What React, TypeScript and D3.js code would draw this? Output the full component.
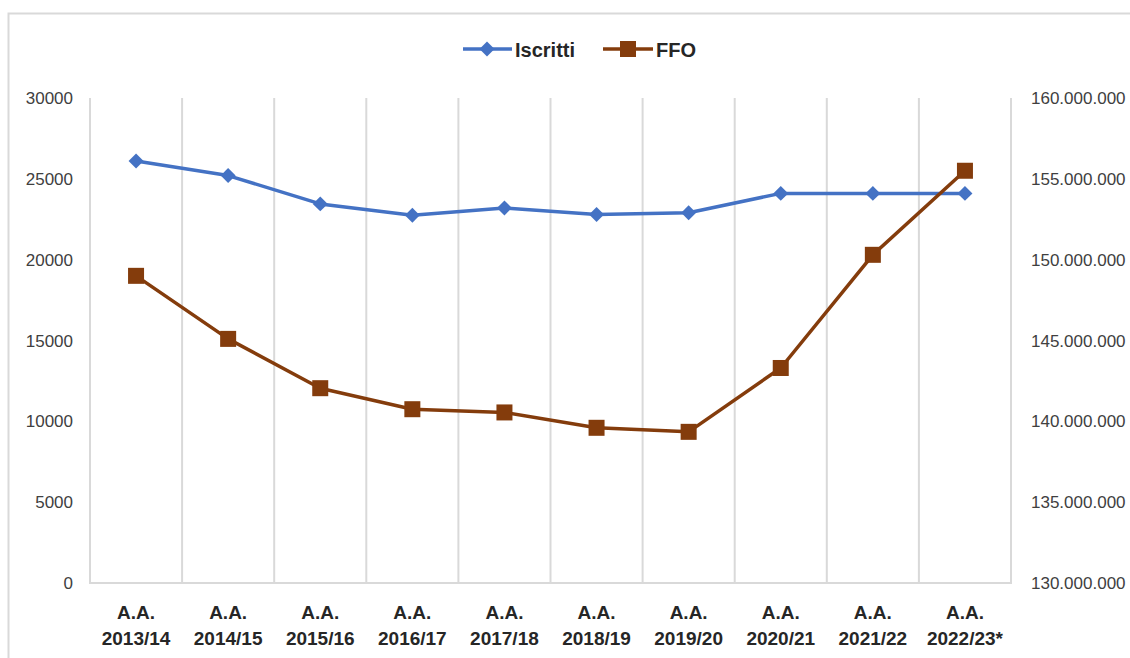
import {useEffect, useRef} from 'react';
import * as d3 from 'd3';

const categories = [
    '2013/14', '2014/15', '2015/16', '2016/17', '2017/18',
    '2018/19', '2019/20', '2020/21', '2021/22', '2022/23*',
];
const iscritti = [26100, 25200, 23450, 22750, 23200, 22800, 22900, 24100, 24100, 24100];
const ffo = [
    149000000, 145100000, 142050000, 140750000, 140550000,
    139600000, 139350000, 143300000, 150300000, 155500000,
];
const leftTicks = [0, 5000, 10000, 15000, 20000, 25000, 30000];
const rightTicks = [130000000, 135000000, 140000000, 145000000, 150000000, 155000000, 160000000];

const BLUE = '#4472C4';
const BROWN = '#843C0C';
const GRID = '#d9d9d9';
const FONT = '"Liberation Sans", Arial, sans-serif';

export default function App() {
    const ref = useRef<SVGSVGElement | null>(null);

    useEffect(() => {
        const width = 1130;
        const height = 658;
        const m = {left: 90, right: 1011, top: 98, bottom: 583};
        const svg = d3.select(ref.current);
        svg.selectAll('*').remove();
        svg.attr('viewBox', `0 0 ${width} ${height}`);

        // chart frame
        svg.append('rect')
            .attr('x', 8.5).attr('y', 13.5)
            .attr('width', 1140).attr('height', 700)
            .attr('fill', 'white')
            .attr('stroke', GRID).attr('stroke-width', 2);

        const x = d3.scaleBand().domain(categories).range([m.left, m.right]);
        const yL = d3.scaleLinear().domain([0, 30000]).range([m.bottom, m.top]);
        const yR = d3.scaleLinear().domain([130000000, 160000000]).range([m.bottom, m.top]);

        // vertical gridlines at category boundaries
        const bounds = categories.map((c) => x(c)!).concat([m.right]);
        svg.append('g')
            .selectAll('line')
            .data(bounds)
            .enter()
            .append('line')
            .attr('x1', (d) => d).attr('x2', (d) => d)
            .attr('y1', m.top).attr('y2', m.bottom)
            .attr('stroke', GRID).attr('stroke-width', 2);

        // baseline
        svg.append('line')
            .attr('x1', m.left - 1).attr('x2', m.right + 1)
            .attr('y1', m.bottom).attr('y2', m.bottom)
            .attr('stroke', GRID).attr('stroke-width', 2);

        // left axis labels
        svg.append('g')
            .selectAll('text')
            .data(leftTicks)
            .enter()
            .append('text')
            .attr('x', 73)
            .attr('y', (d) => yL(d) + 6)
            .attr('text-anchor', 'end')
            .attr('font-family', FONT)
            .attr('font-size', 17)
            .attr('fill', '#404040')
            .text((d) => String(d));

        // right axis labels
        const fmtR = (d: number) => d3.format(',')(d).replace(/,/g, '.');
        svg.append('g')
            .selectAll('text')
            .data(rightTicks)
            .enter()
            .append('text')
            .attr('x', 1031)
            .attr('y', (d) => yR(d) + 6)
            .attr('text-anchor', 'start')
            .attr('font-family', FONT)
            .attr('font-size', 17)
            .attr('fill', '#404040')
            .text((d) => fmtR(d));

        // category labels
        const cat = svg.append('g')
            .selectAll('text')
            .data(categories)
            .enter()
            .append('text')
            .attr('text-anchor', 'middle')
            .attr('font-family', FONT)
            .attr('font-size', 19)
            .attr('font-weight', 'bold')
            .attr('fill', '#262626');
        cat.append('tspan')
            .attr('x', (d) => x(d)! + x.bandwidth() / 2)
            .attr('y', 619)
            .text('A.A.');
        cat.append('tspan')
            .attr('x', (d) => x(d)! + x.bandwidth() / 2)
            .attr('y', 645)
            .text((d) => d);

        const cx = (i: number) => x(categories[i])! + x.bandwidth() / 2;

        // Iscritti line
        const lineL = d3.line<number>().x((_, i) => cx(i)).y((d) => yL(d));
        svg.append('path')
            .datum(iscritti)
            .attr('d', lineL)
            .attr('fill', 'none')
            .attr('stroke', BLUE)
            .attr('stroke-width', 3.5)
            .attr('stroke-linejoin', 'round');
        const diamond = d3.symbol().type(d3.symbolSquare).size(112)();
        svg.append('g')
            .selectAll('path')
            .data(iscritti)
            .enter()
            .append('path')
            .attr('d', diamond)
            .attr('transform', (d, i) => `translate(${cx(i)},${yL(d)}) rotate(45)`)
            .attr('fill', BLUE);

        // FFO line
        const lineR = d3.line<number>().x((_, i) => cx(i)).y((d) => yR(d));
        svg.append('path')
            .datum(ffo)
            .attr('d', lineR)
            .attr('fill', 'none')
            .attr('stroke', BROWN)
            .attr('stroke-width', 3.5)
            .attr('stroke-linejoin', 'round');
        svg.append('g')
            .selectAll('rect')
            .data(ffo)
            .enter()
            .append('rect')
            .attr('x', (d, i) => cx(i) - 8)
            .attr('y', (d) => yR(d) - 8)
            .attr('width', 16)
            .attr('height', 16)
            .attr('fill', BROWN);

        // legend
        const leg = svg.append('g');
        leg.append('line')
            .attr('x1', 463).attr('x2', 512).attr('y1', 49).attr('y2', 49)
            .attr('stroke', BLUE).attr('stroke-width', 3.5);
        leg.append('path')
            .attr('d', diamond)
            .attr('transform', 'translate(487,49) rotate(45)')
            .attr('fill', BLUE);
        leg.append('text')
            .attr('x', 515).attr('y', 57)
            .attr('font-family', FONT).attr('font-size', 20).attr('font-weight', 'bold')
            .attr('fill', '#262626')
            .text('Iscritti');
        leg.append('line')
            .attr('x1', 603).attr('x2', 653).attr('y1', 49).attr('y2', 49)
            .attr('stroke', BROWN).attr('stroke-width', 3.5);
        leg.append('rect')
            .attr('x', 620).attr('y', 41).attr('width', 16).attr('height', 16)
            .attr('fill', BROWN);
        leg.append('text')
            .attr('x', 656).attr('y', 57)
            .attr('font-family', FONT).attr('font-size', 20).attr('font-weight', 'bold')
            .attr('fill', '#262626')
            .text('FFO');
    }, []);

    return (
        <svg
            ref={ref}
            width={1130}
            height={658}
            style={{position: 'absolute', left: 0, top: 0, display: 'block'}}
        ></svg>
    );
}
